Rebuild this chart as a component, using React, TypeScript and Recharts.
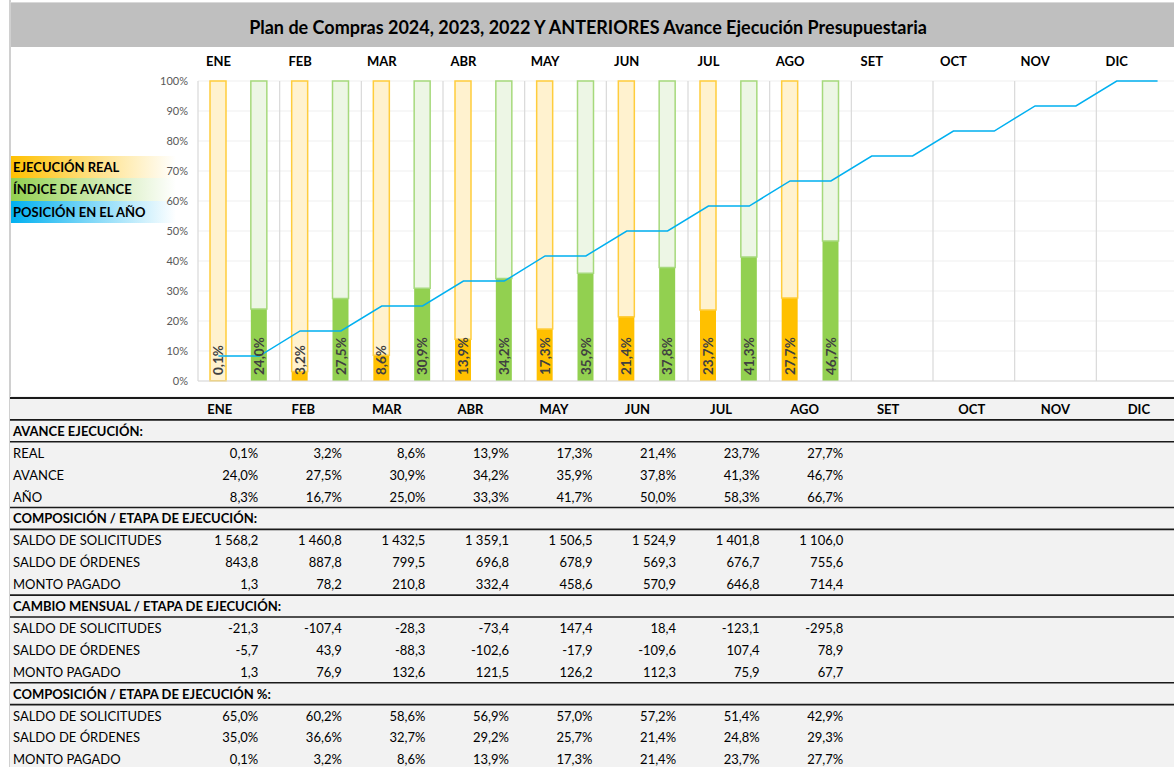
import React from 'react';
import {
  ComposedChart, Bar, Line, XAxis, YAxis, CartesianGrid, LabelList, ReferenceLine,
} from 'recharts';

const months = ['ENE', 'FEB', 'MAR', 'ABR', 'MAY', 'JUN', 'JUL', 'AGO', 'SET', 'OCT', 'NOV', 'DIC'];
const realPct = [0.1, 3.2, 8.6, 13.9, 17.3, 21.4, 23.7, 27.7];
const avancePct = [24.0, 27.5, 30.9, 34.2, 35.9, 37.8, 41.3, 46.7];
const anoPct = [8.3, 16.7, 25.0, 33.3, 41.7, 50.0, 58.3, 66.7, 75.0, 83.3, 91.7, 100.0];
const yTicks = [0, 0.1, 0.2, 0.3, 0.4, 0.5, 0.6, 0.7, 0.8, 0.9, 1];

const saldoSolicitudes = [1568.2, 1460.8, 1432.5, 1359.1, 1506.5, 1524.9, 1401.8, 1106.0];
const saldoOrdenes = [843.8, 887.8, 799.5, 696.8, 678.9, 569.3, 676.7, 755.6];
const montoPagado = [1.3, 78.2, 210.8, 332.4, 458.6, 570.9, 646.8, 714.4];
const cambioSolicitudes = [-21.3, -107.4, -28.3, -73.4, 147.4, 18.4, -123.1, -295.8];
const cambioOrdenes = [-5.7, 43.9, -88.3, -102.6, -17.9, -109.6, 107.4, 78.9];
const cambioPagado = [1.3, 76.9, 132.6, 121.5, 126.2, 112.3, 75.9, 67.7];
const pctSolicitudes = [65.0, 60.2, 58.6, 56.9, 57.0, 57.2, 51.4, 42.9];
const pctOrdenes = [35.0, 36.6, 32.7, 29.2, 25.7, 21.4, 24.8, 29.3];
const pctPagado = [0.1, 3.2, 8.6, 13.9, 17.3, 21.4, 23.7, 27.7];

const TITLE = 'Plan de Compras 2024, 2023, 2022 Y ANTERIORES Avance Ejecución Presupuestaria';
const FONT = 'Lato, "Open Sans", sans-serif';

function fmtNum(v: number): string {
  const neg = v < 0;
  const a = Math.abs(v).toFixed(1);
  const [ip, dp] = a.split('.');
  const withSep = ip.replace(/\B(?=(\d{3})+(?!\d))/g, '\u00A0');
  return (neg ? '-' : '') + withSep + ',' + dp;
}
function fmtPct(v: number): string {
  return v.toFixed(1).replace('.', ',') + '%';
}

const chartData: any[] = [];
months.forEach((m, i) => {
  const r = realPct[i];
  const a = avancePct[i];
  chartData.push({
    slot: i * 2,
    pos: anoPct[i] / 100,
    real: r !== undefined ? r / 100 : undefined,
    realRest: r !== undefined ? 1 - r / 100 : undefined,
    realText: r !== undefined ? fmtPct(r) : undefined,
  });
  chartData.push({
    slot: i * 2 + 1,
    pos: anoPct[i] / 100,
    avance: a !== undefined ? a / 100 : undefined,
    avanceRest: a !== undefined ? 1 - a / 100 : undefined,
    avanceText: a !== undefined ? fmtPct(a) : undefined,
  });
});

const VertLabel = (props: any) => {
  const { x, y, width, height, value } = props;
  if (value === undefined || value === null || value === '') return null;
  const cx = Number(x) + Number(width) / 2;
  const by = Number(y) + Number(height) - 6;
  return (
    <text
      x={cx}
      y={by}
      transform={`rotate(-90 ${cx} ${by})`}
      textAnchor="start"
      dominantBaseline="central"
      fill="#404040"
      fontFamily={FONT}
      fontWeight={700}
      fontSize={13.5}
    >
      {value}
    </text>
  );
};

const MonthTick = (props: any) => {
  const { x, y, payload } = props;
  const idx = Number(payload.value);
  if (idx % 2 !== 0) return null;
  return (
    <text x={x} y={y} dy={-12} textAnchor="middle" dominantBaseline="central"
      fill="#000" fontFamily={FONT} fontWeight={700} fontSize={13}>
      {months[idx / 2]}
    </text>
  );
};

const gridV = (props: any) => {
  const o = props && props.offset ? props.offset : { left: 198, width: 980 };
  return Array.from({ length: 13 }, (_, k) => o.left + (k * o.width) / 12);
};

const legendItems = [
  { label: 'EJECUCIÓN REAL', color: '#FFC000' },
  { label: 'ÍNDICE DE AVANCE', color: '#92D050' },
  { label: 'POSICIÓN EN EL AÑO', color: '#00B0F0' },
];

type Row = { label: string; kind: 'header' | 'section' | 'data'; values?: string[] };
const tableRows: Row[] = [
  { label: '', kind: 'header' },
  { label: 'AVANCE EJECUCIÓN:', kind: 'section' },
  { label: 'REAL', kind: 'data', values: realPct.map(fmtPct) },
  { label: 'AVANCE', kind: 'data', values: avancePct.map(fmtPct) },
  { label: 'AÑO', kind: 'data', values: anoPct.slice(0, 8).map(fmtPct) },
  { label: 'COMPOSICIÓN / ETAPA DE EJECUCIÓN:', kind: 'section' },
  { label: 'SALDO DE SOLICITUDES', kind: 'data', values: saldoSolicitudes.map(fmtNum) },
  { label: 'SALDO DE ÓRDENES', kind: 'data', values: saldoOrdenes.map(fmtNum) },
  { label: 'MONTO PAGADO', kind: 'data', values: montoPagado.map(fmtNum) },
  { label: 'CAMBIO MENSUAL / ETAPA DE EJECUCIÓN:', kind: 'section' },
  { label: 'SALDO DE SOLICITUDES', kind: 'data', values: cambioSolicitudes.map(fmtNum) },
  { label: 'SALDO DE ÓRDENES', kind: 'data', values: cambioOrdenes.map(fmtNum) },
  { label: 'MONTO PAGADO', kind: 'data', values: cambioPagado.map(fmtNum) },
  { label: 'COMPOSICIÓN / ETAPA DE EJECUCIÓN %:', kind: 'section' },
  { label: 'SALDO DE SOLICITUDES', kind: 'data', values: pctSolicitudes.map(fmtPct) },
  { label: 'SALDO DE ÓRDENES', kind: 'data', values: pctOrdenes.map(fmtPct) },
  { label: 'MONTO PAGADO', kind: 'data', values: pctPagado.map(fmtPct) },
];

const TABLE_TOP = 398;
const ROW_H = 21.9;
const COL_W = 83.56;
const HEAD_X0 = 219.7;
const VAL_X0 = 258.3;
const lineRows = [1, 2, 5, 6, 9, 10, 13, 14];

function Table() {
  return (
    <svg width={1174} height={767 - TABLE_TOP + 2} style={{ position: 'absolute', left: 0, top: TABLE_TOP - 2 }}>
      <rect x={10} y={0} width={1164} height={767} fill="#F2F2F2" />
      <line x1={10} x2={1174} y1={2} y2={2} stroke="#1a1a1a" strokeWidth={2} />
      {lineRows.map((k) => (
        <line key={k} x1={10} x2={1174} y1={2 + k * ROW_H} y2={2 + k * ROW_H} stroke="#1a1a1a" strokeWidth={1.6} />
      ))}
      {tableRows.map((row, r) => {
        const cy = 2 + r * ROW_H + ROW_H / 2;
        if (row.kind === 'header') {
          return months.map((m, j) => (
            <text key={'h' + j} x={HEAD_X0 + j * COL_W} y={cy} textAnchor="middle" dominantBaseline="central"
              fontFamily={FONT} fontWeight={700} fontSize={13} fill="#000">{m}</text>
          ));
        }
        return (
          <g key={r}>
            <text x={13} y={cy} dominantBaseline="central" fontFamily={FONT}
              fontWeight={row.kind === 'section' ? 700 : 400} fontSize={13} fill="#000">{row.label}</text>
            {(row.values || []).map((v, j) => (
              <text key={j} x={VAL_X0 + j * COL_W} y={cy} textAnchor="end" dominantBaseline="central"
                fontFamily={FONT} fontSize={13} fill="#000" style={{ whiteSpace: 'pre' }}>{v}</text>
            ))}
          </g>
        );
      })}
    </svg>
  );
}

export default function App() {
  return (
    <div style={{ position: 'absolute', left: 0, top: 0, width: 1174, height: 767, overflow: 'hidden', background: '#fff', fontFamily: FONT }}>
      {/* title bar */}
      <div style={{
        position: 'absolute', left: 10, top: 3, width: 1164, height: 44, background: '#BFBFBF',
        display: 'flex', alignItems: 'center', justifyContent: 'center', paddingTop: 3,
        fontWeight: 700, fontSize: 18, color: '#000', boxSizing: 'border-box',
      }}>
        <span style={{ marginLeft: -8 }}>{TITLE}</span>
      </div>
      <div style={{ position: 'absolute', left: 9, top: 0, width: 2, height: 767, background: '#D0D0D0' }} />
      <div style={{ position: 'absolute', left: 10, top: 2, width: 1164, height: 1, background: '#D9D9D9' }} />

      {/* legend */}
      {legendItems.map((it, i) => (
        <div key={it.label} style={{
          position: 'absolute', left: 11, top: 156 + i * 22.3, width: 165, height: 22.3,
          background: `linear-gradient(to right, ${it.color} 0%, ${it.color}88 45%, #ffffff 100%)`,
          fontWeight: 700, fontSize: 13, lineHeight: '22.3px', color: '#000', paddingLeft: 2, boxSizing: 'border-box',
          whiteSpace: 'nowrap',
        }}>{it.label}</div>
      ))}

      <div style={{ position: 'absolute', left: 0, top: 0 }}>
        <ComposedChart
          width={1200}
          height={400}
          data={chartData}
          margin={{ top: 51, right: 22, bottom: 19, left: 158 }}
        >
          <CartesianGrid stroke="#EFEFEF" vertical={false} />
          <CartesianGrid stroke="#D9D9D9" horizontal={false} verticalCoordinatesGenerator={gridV} strokeWidth={1.2} />
          <XAxis
            dataKey="slot"
            type="category"
            orientation="top"
            height={30}
            axisLine={false}
            tickLine={false}
            interval={0}
            tick={<MonthTick />}
          />
          <YAxis
            domain={[0, 1]}
            ticks={yTicks}
            width={40}
            axisLine={false}
            tickLine={false}
            tickSize={0}
            tickMargin={10}
            tickFormatter={(v: number) => Math.round(v * 100) + '%'}
            tick={{ fill: '#595959', fontSize: 11, fontFamily: FONT }}
            interval={0}
          />
          <ReferenceLine y={0} stroke="#D9D9D9" strokeWidth={1.2} />
          <Bar dataKey="real" stackId="s" barSize={16} fill="#FFC000" isAnimationActive={false}>
            <LabelList dataKey="realText" content={<VertLabel />} />
          </Bar>
          <Bar dataKey="realRest" stackId="s" barSize={16} fill="#FFF2CF" stroke="#FFCD3C" strokeWidth={1.5} isAnimationActive={false} />
          <Bar dataKey="avance" stackId="s" barSize={16} fill="#92D050" isAnimationActive={false}>
            <LabelList dataKey="avanceText" content={<VertLabel />} />
          </Bar>
          <Bar dataKey="avanceRest" stackId="s" barSize={16} fill="#EDF6E5" stroke="#A6D97C" strokeWidth={1.5} isAnimationActive={false} />
          <Line dataKey="pos" type="linear" stroke="#00B0F0" strokeWidth={1.5} dot={false} isAnimationActive={false} />
        </ComposedChart>
      </div>

      <Table />
    </div>
  );
}
